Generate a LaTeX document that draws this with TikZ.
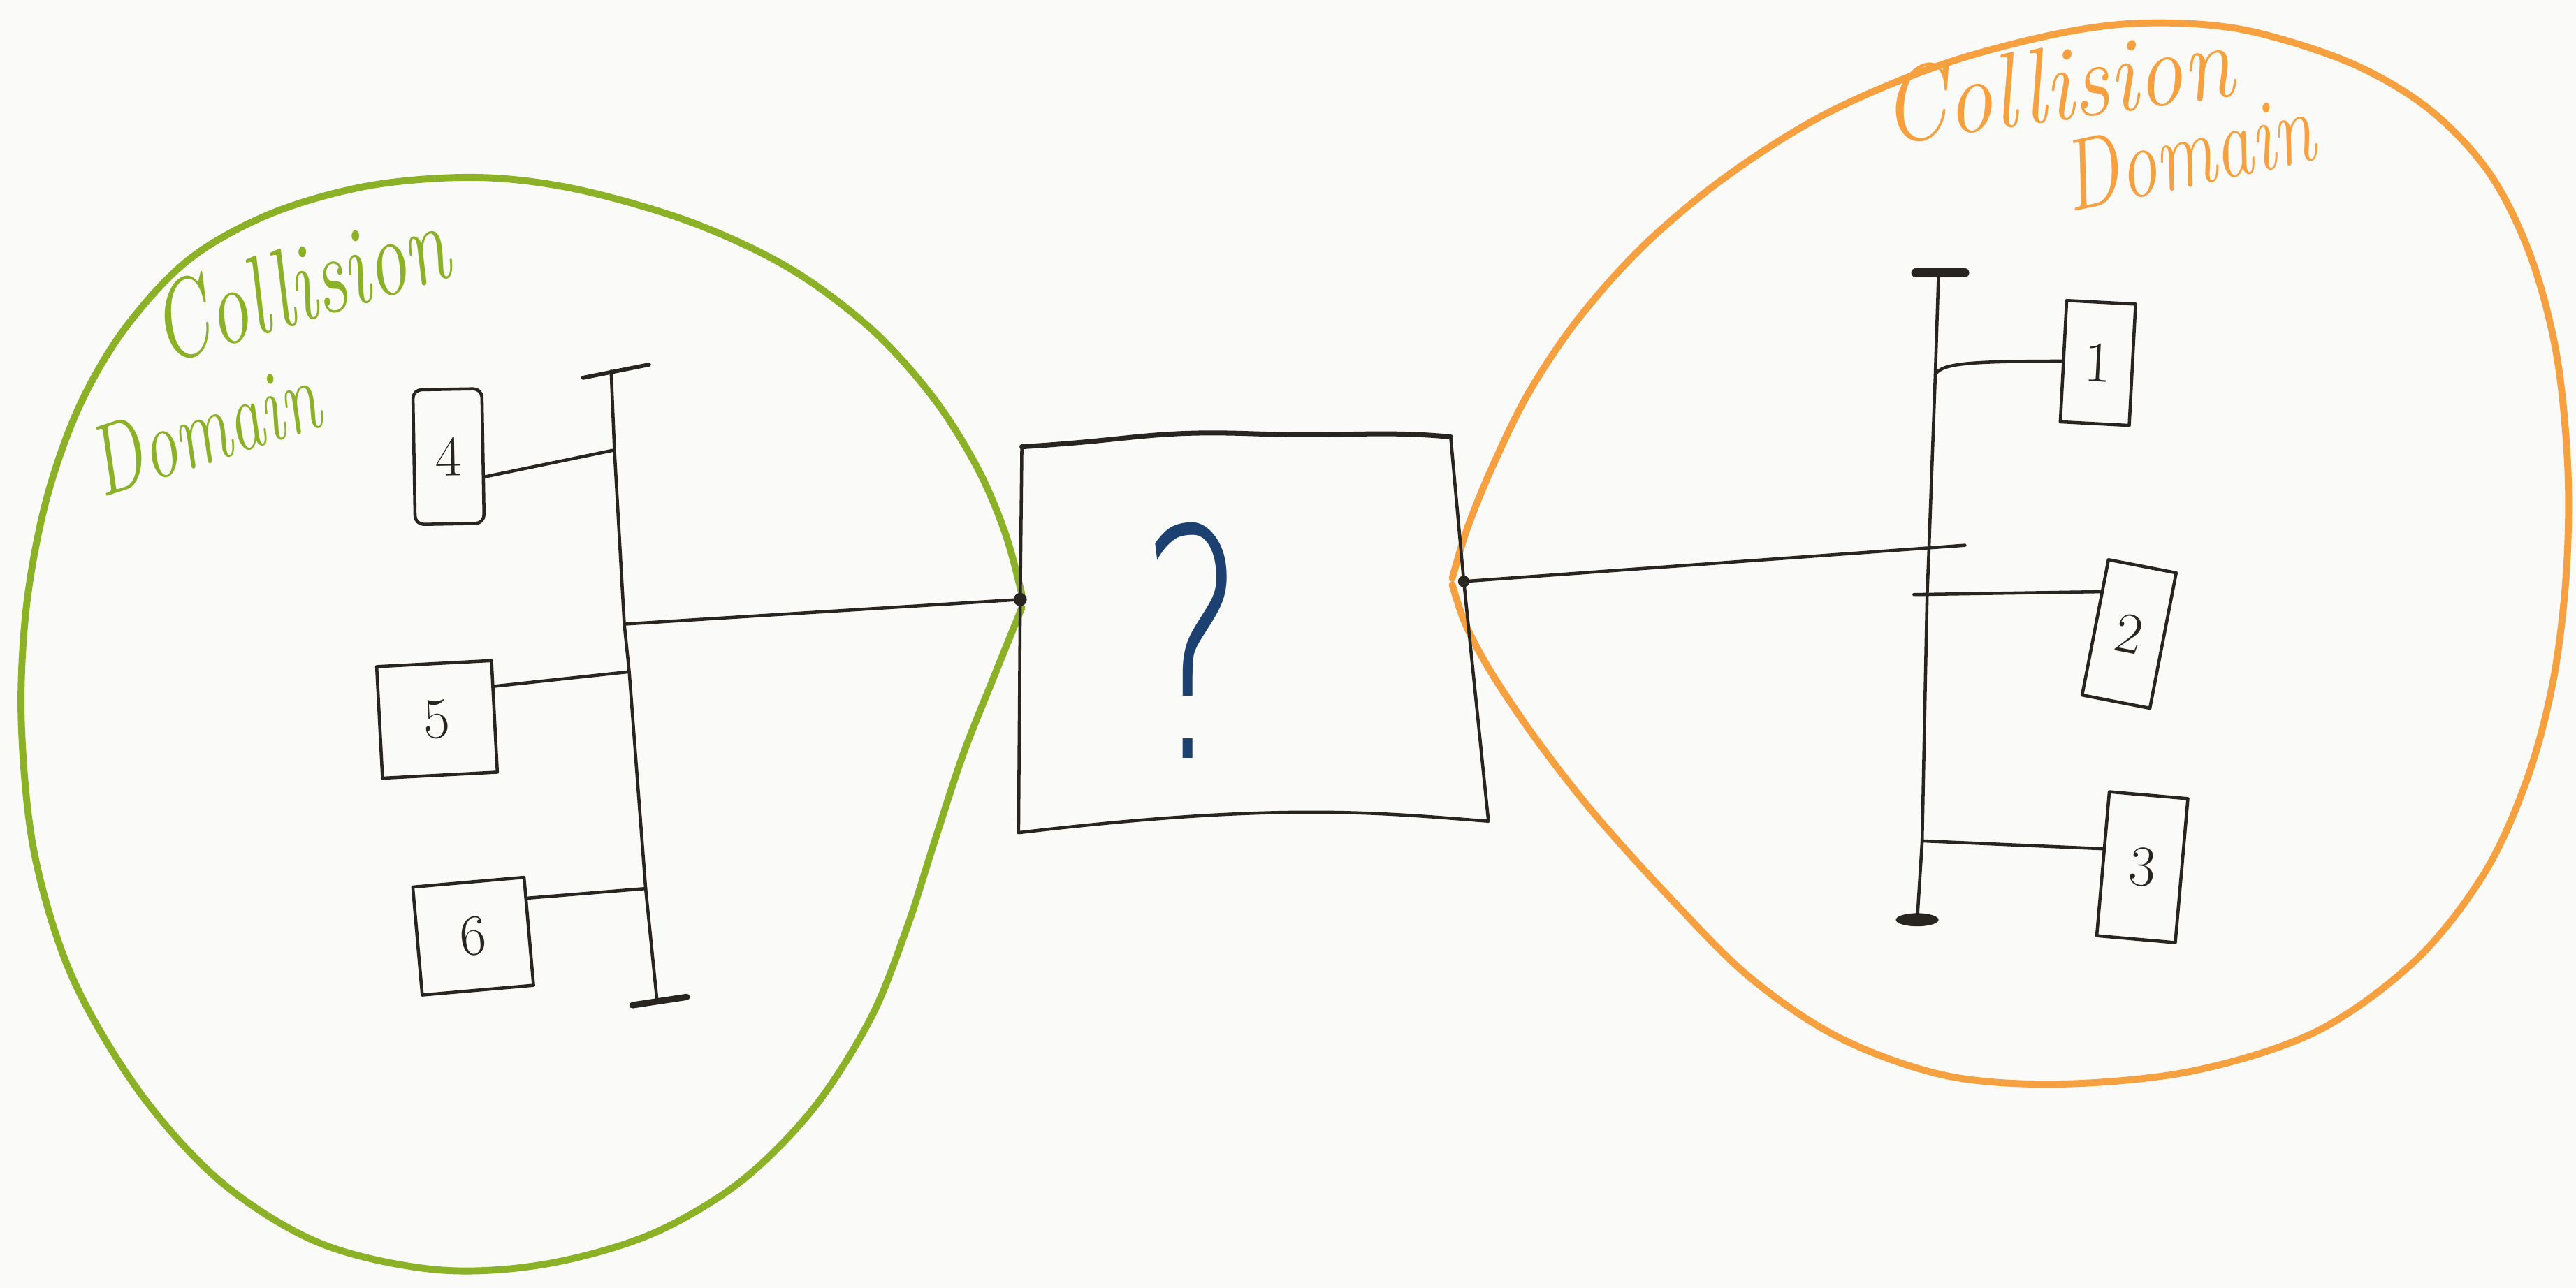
\documentclass[tikz,border=0pt]{standalone}
\usepackage{fontspec}
\newfontfamily\qfont{DejaVuSans-ExtraLight.ttf}
\usetikzlibrary{calc}
\definecolor{bg}{RGB}{250,250,248}
\definecolor{ink}{RGB}{40,36,32}
\definecolor{dgreen}{RGB}{139,178,38}
\definecolor{dorange}{RGB}{247,160,64}
\definecolor{qblue}{RGB}{28,64,112}
\tikzset{
  pen/.style={draw=ink, line width=1.1pt, line cap=round, line join=round},
  dev/.style={pen, rectangle, inner sep=0pt, text=ink, font=\fontsize{20}{20}\selectfont},
  blob/.style={line width=2.4pt, line cap=round, line join=round},
  lbl/.style={inner sep=0pt, anchor=base west, font=\itshape},
  tick/.style={draw=ink, line width=2.2pt, line cap=round},
}
\begin{document}
\begin{tikzpicture}[x=0.02cm,y=-0.02cm]
\fill[bg] (0,0) rectangle (1568,784);
\useasboundingbox (0,0) rectangle (1568,784);

% collision domains
\draw[blob, dgreen] plot[smooth, tension=0.55] coordinates {
 (622,362) (612,325) (595,285) (568,242) (530,200) (480,163) (420,135) (350,115) (290,108) (225,113) (165,130) (115,158) (76,200) (48,248) (28,305) (16,370) (13,440) (21,520) (44,595) (85,665) (135,720) (195,757) (265,773) (330,770) (395,752) (450,720) (495,675) (530,620) (552,565) (568,515) (586,460) (605,412) (622,370)};
\draw[blob, dorange] plot[smooth, tension=0.55] coordinates {
 (884,352) (893,322) (908,285) (930,240) (960,195) (1000,150) (1050,108) (1110,70) (1180,40) (1250,21) (1305,14) (1365,18) (1430,38) (1478,66) (1515,105) (1540,155) (1556,215) (1563,285) (1562,350) (1554,415) (1538,475) (1512,532) (1470,585) (1410,628) (1335,652) (1255,660) (1185,655) (1120,632) (1065,595) (1015,545) (970,495) (935,450) (908,410) (892,380) (884,356)};

% labels
\node[lbl, text=dgreen, font=\itshape\fontsize{27.5}{27.5}\selectfont, rotate=17, yscale=1.4] (gl1) at (100,222) {Collision};
\node[lbl, text=dgreen, font=\itshape\fontsize{24}{24}\selectfont, rotate=18, yscale=1.45] (gl2) at (62,303) {Domain};
\node[lbl, text=dorange, font=\itshape\fontsize{32}{32}\selectfont, rotate=8, yscale=1.15] (ol1) at (1148,88) {Collision};
\node[lbl, text=dorange, font=\itshape\fontsize{26}{26}\selectfont, rotate=12, yscale=1.35] (ol2) at (1260,129) {Domain};

% central box
\coordinate (btl) at (622,272);
\coordinate (btr) at (883,266);
\coordinate (bbr) at (906,500);
\coordinate (bbl) at (620,507);
\coordinate (bportl) at (621,365);
\coordinate (bportr) at (891,354);
\draw[pen, line width=1.7pt] (btl) .. controls (690,268) and (700,262) .. (760,264) .. controls (820,266) and (840,262) .. (btr);
\draw[pen] (btr) -- (bportr) -- (bbr) .. controls (840,495) and (780,488) .. (bbl) -- (bportl) -- (btl);
\node[text=qblue, font=\qfont\fontsize{110}{110}\selectfont, xscale=0.62, inner sep=0pt] (q) at (726,390) {?};

% left bus
\coordinate (lt) at (372,226);
\coordinate (l4) at (374,274);
\coordinate (lm) at (380,380);
\coordinate (l5) at (383,409);
\coordinate (l6) at (393,541);
\coordinate (lb) at (400,610);
\draw[pen] (lt) -- (l4) -- (lm) -- (l5) -- (l6) -- (lb);
\draw[tick, line width=1.4pt] (355,230) -- (395,222);
\draw[tick] (385,612) -- (418,607);

\node[dev, minimum width=0.84cm, minimum height=1.64cm, rotate=1, rounded corners=3pt] (d4) at (273,278) {4};
\node[dev, minimum width=1.4cm, minimum height=1.36cm, rotate=3] (d5) at (266,438) {5};
\node[dev, minimum width=1.36cm, minimum height=1.32cm, rotate=5] (d6) at (288,570) {6};
\draw[pen] (d4.-30) -- (l4);
\draw[pen] (d5.27) -- (l5);
\draw[pen] (d6.30) -- (l6);
\draw[pen] (lm) -- (bportl);
\fill[ink] (bportl) circle (4);

% right bus
\coordinate (rt) at (1180,166);
\coordinate (r1) at (1178,228);
\coordinate (rm) at (1174,338);
\coordinate (r2) at (1173,363);
\coordinate (r3) at (1170,512);
\coordinate (rb) at (1167,560);
\coordinate (rmend) at (1196,332);
\draw[pen] (rt) -- (r1) -- (rm) -- (r2) -- (r3) -- (rb);
\draw[tick, line width=3pt] (1166,166) -- (1196,166);
\fill[ink] (rb) ellipse (13 and 4);

\node[dev, minimum width=0.84cm, minimum height=1.48cm, rotate=-3] (d1) at (1277,221) {1};
\node[dev, minimum width=0.84cm, minimum height=1.68cm, rotate=-11] (d2) at (1296,386) {2};
\node[dev, minimum width=0.96cm, minimum height=1.76cm, rotate=-5] (d3) at (1304,528) {3};
\draw[pen] (r1) .. controls (1182,221) and (1200,220) .. (d1.west);
\draw[pen] (1165,362) -- (d2.135);
\draw[pen] (r3) -- (d3.160);
\draw[pen] (bportr) -- (rmend);
\fill[ink] (bportr) circle (3.5);
\end{tikzpicture}
\end{document}
